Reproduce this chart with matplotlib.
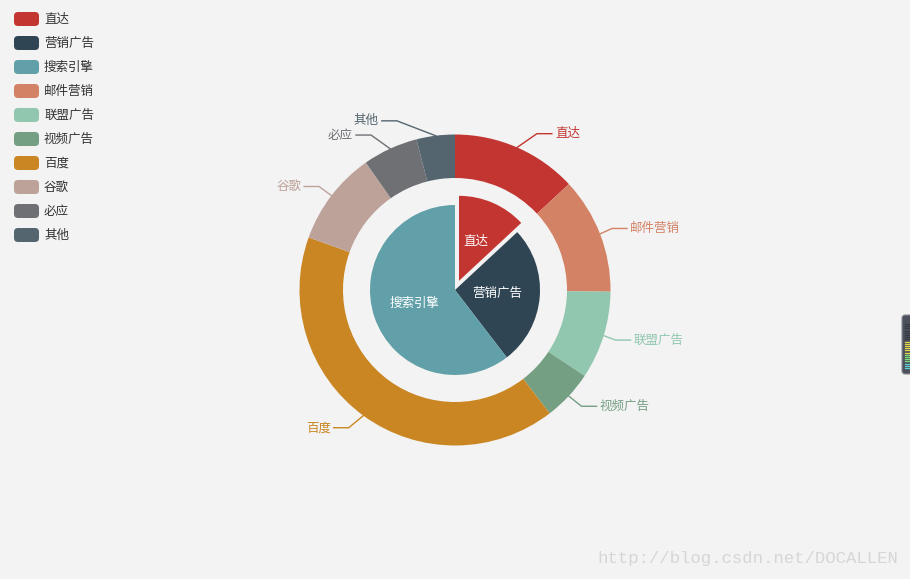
import numpy as np
import matplotlib
matplotlib.use("Agg")
import matplotlib.pyplot as plt
from matplotlib.patches import FancyBboxPatch

plt.rcParams["font.family"] = ["Noto Sans CJK SC", "DejaVu Sans"]

# ── Data ──────────────────────────────────────────────────────────────────────
legend_names = ["直达", "营销广告", "搜索引擎", "邮件营销", "联盟广告",
                "视频广告", "百度", "谷歌", "必应", "其他"]
palette = ["#c23531", "#2f4554", "#61a0a8", "#d48265", "#91c7ae",
           "#749f83", "#ca8622", "#bda29a", "#6e7074", "#546570"]

inner_names = ["直达", "营销广告", "搜索引擎"]
inner_values = [335, 679, 1548]
inner_selected = [True, False, False]

outer_names = ["直达", "邮件营销", "联盟广告", "视频广告", "百度", "谷歌", "必应", "其他"]
outer_values = [335, 310, 234, 135, 1048, 251, 147, 102]

color_of = dict(zip(legend_names, palette))

# ── Layout (pixels) ───────────────────────────────────────────────────────────
W, H = 910, 579
BG = "#f3f3f3"
CX, CY = 455, 290          # pie centre, y measured from top
R_OUT, R_RING, R_IN = 155.5, 112.0, 85.0
LEN1, LEN2 = 15, 15        # label line segments
SEL_OFFSET = 10            # selected slice offset, px


def py(y):
    """top-based pixel y -> axes y"""
    return H - y


fig = plt.figure(figsize=(W / 100, H / 100), dpi=100, facecolor=BG)
ax = fig.add_axes([0, 0, 1, 1])
ax.set_facecolor(BG)

# ── Inner pie ────────────────────────────────────────────────────────────────
# matplotlib's explode is in data units, which here are pixels
explode = [SEL_OFFSET if s else 0 for s in inner_selected]
ax.pie(inner_values, radius=R_IN, center=(CX, py(CY)), startangle=90,
       counterclock=False, explode=explode,
       colors=[color_of[n] for n in inner_names],
       wedgeprops=dict(linewidth=0), frame=True)

tot = sum(inner_values)
cum = 0
for name, v, ex in zip(inner_names, inner_values, explode):
    th = 2 * np.pi * (cum + v / 2) / tot
    cum += v
    d = R_IN / 2 + ex
    ax.text(CX + d * np.sin(th), py(CY - d * np.cos(th)), name,
            color="white", fontsize=9, ha="center", va="center")

# ── Outer ring ───────────────────────────────────────────────────────────────
ax.pie(outer_values, radius=R_OUT, center=(CX, py(CY)), startangle=90,
       counterclock=False, colors=[color_of[n] for n in outer_names],
       wedgeprops=dict(width=R_OUT - R_RING, linewidth=0), frame=True)

tot = sum(outer_values)
cum = 0
for name, v in zip(outer_names, outer_values):
    th = 2 * np.pi * (cum + v / 2) / tot
    cum += v
    dx, dy = np.sin(th), -np.cos(th)
    side = 1 if dx >= 0 else -1
    x1, y1 = CX + R_OUT * dx, CY + R_OUT * dy
    y2 = CY + (R_OUT + LEN1) * dy
    dY = abs(y2 - CY)
    dX = np.sqrt((R_OUT + LEN1 + LEN2) ** 2 - dY ** 2)
    lx = CX + side * dX
    x3 = lx - 3 * side
    x2 = x3 - LEN2 * side
    c = color_of[name]
    ax.plot([x1, x2, x3], [py(y1), py(y2), py(y2)], color=c, lw=1)
    ax.text(lx, py(y2), name, color=c, fontsize=9,
            ha="left" if side > 0 else "right", va="center")

ax.set_xlim(0, W)
ax.set_ylim(0, H)
ax.set_aspect("equal")
ax.axis("off")

# ── Legend ───────────────────────────────────────────────────────────────────
for i, (name, c) in enumerate(zip(legend_names, palette)):
    top = 12 + i * 24
    ax.add_patch(FancyBboxPatch((14, py(top + 14)), 25, 14,
                                boxstyle="round,pad=0,rounding_size=4",
                                fc=c, ec="none"))
    ax.text(44, py(top + 7), name, color="#333333", fontsize=9,
            ha="left", va="center")

# ── Watermark & side widget ──────────────────────────────────────────────────
ax.text(898, py(558), "http://blog.csdn.net/DOCALLEN", color="#d6d6d6",
        fontsize=12.5, family="Liberation Mono", ha="right", va="center")

ax.add_patch(FancyBboxPatch((902, py(374)), 14, 59,
                            boxstyle="round,pad=0,rounding_size=3",
                            fc="#4b505a", ec="#8a8e96", lw=0.8))
bar_cols = ["#353a44"] * 8 + ["#e6d84a"] * 6 + ["#7fdc7a"] * 4 + ["#5ccfd0"] * 3
for j, bc in enumerate(bar_cols):
    y = 324 + j * 2.2
    ax.plot([905, 910], [py(y), py(y)], color=bc, lw=0.9)

fig.savefig("out.png", dpi=100, facecolor=BG)
